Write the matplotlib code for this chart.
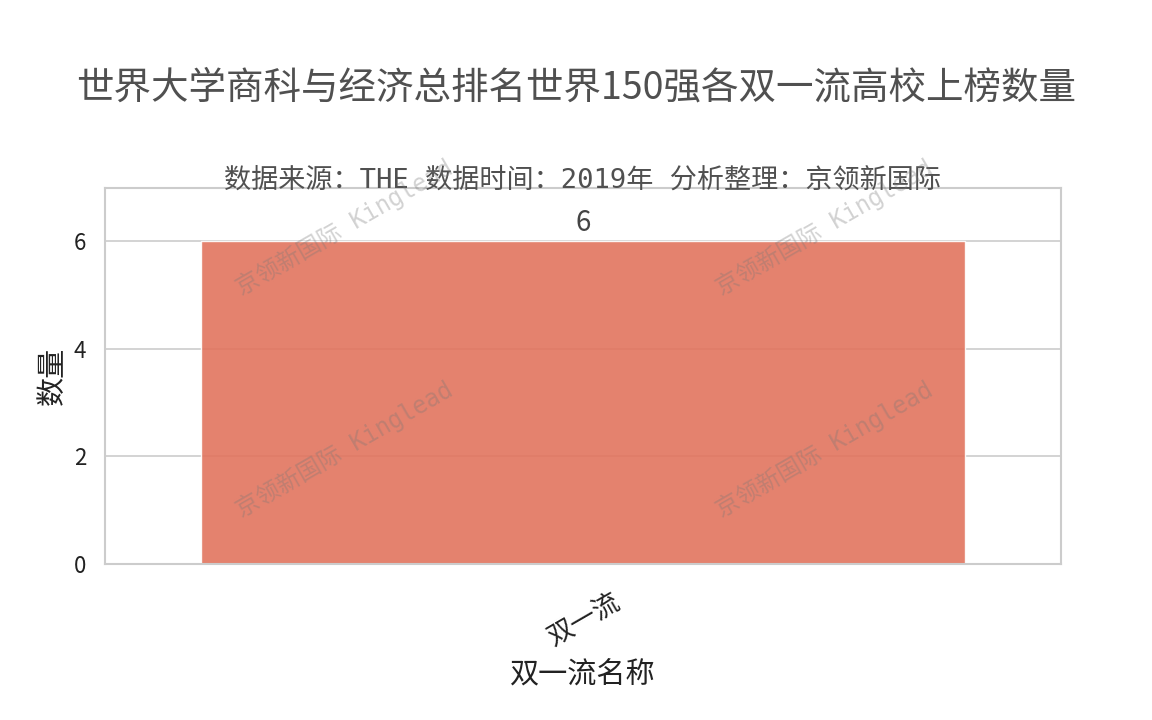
import matplotlib
matplotlib.use('Agg')
import matplotlib.pyplot as plt
import seaborn as sns

# 数据
categories = ['双一流']
counts = [6]

sns.set_style('whitegrid')
plt.rcParams['font.family'] = ['Noto Sans CJK SC', 'DejaVu Sans']
plt.rcParams['axes.unicode_minus'] = False
mono = ['DejaVu Sans Mono', 'Noto Sans CJK SC']

fig, ax = plt.subplots(figsize=(11.52, 7.2), dpi=100)
fig.subplots_adjust(left=105/1152, right=1061/1152, top=1-188/720, bottom=1-564/720)

bars = ax.bar(categories, counts, width=0.8, color='#e2745e', alpha=0.9, zorder=2)
ax.set_xlim(-0.5, 0.5)
ax.set_ylim(0, 6.98)
ax.set_yticks([0, 2, 4, 6])

for b, v in zip(bars, counts):
    ax.text(b.get_x() + b.get_width()/2, v + 0.05, str(v), ha='center', va='bottom',
            fontsize=20, color='#444444')

ax.grid(axis='x', visible=False)
ax.grid(axis='y', color='#cccccc', linewidth=1.2, zorder=0)
for s in ax.spines.values():
    s.set_color('#cccccc')
    s.set_linewidth(1.5)

ax.tick_params(axis='y', labelsize=16, colors='#222222', pad=10)
ax.tick_params(axis='x', labelsize=19, colors='#222222', pad=14)
plt.setp(ax.get_xticklabels(), rotation=30)
ax.set_xlabel('双一流名称', fontsize=21, color='#222222', labelpad=6)
ax.set_ylabel('数量', fontsize=21, color='#222222', labelpad=4)

fig.suptitle('世界大学商科与经济总排名世界150强各双一流高校上榜数量', fontsize=27,
             color='#505050', y=1-88/720, va='center')
ax.set_title('数据来源：THE 数据时间：2019年 分析整理：京领新国际', fontsize=19.5,
             color='#505050', pad=0, family=mono)

# 水印
wm = '京领新国际 Kinglead'
for fx, fy in [(0.25, 0.895), (0.753, 0.895), (0.25, 0.305), (0.753, 0.305)]:
    ax.text(fx, fy, wm, transform=ax.transAxes, fontsize=17, color='#777777',
            alpha=0.33, rotation=30, ha='center', va='center', zorder=5,
            family=mono)

fig.savefig('out.png', dpi=100)
